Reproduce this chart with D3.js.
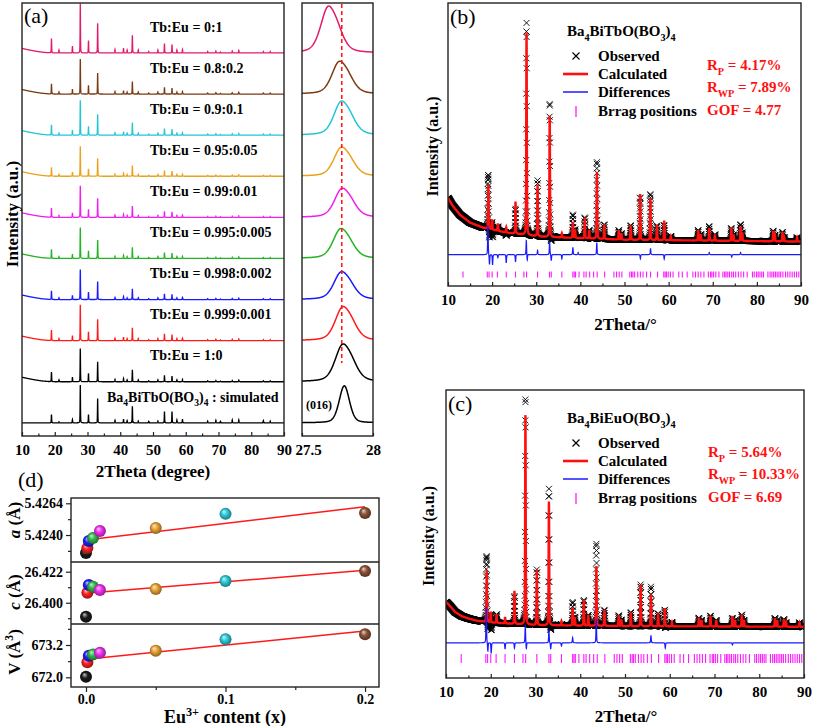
<!DOCTYPE html>
<html><head><meta charset="utf-8">
<script src="https://cdn.jsdelivr.net/npm/d3@7/dist/d3.min.js"></script>
<style>
html,body{margin:0;padding:0;background:#fff;}
text{font-family:"Liberation Serif","Times New Roman",Times,serif;}
</style></head>
<body><svg id="fig" width="813" height="726"></svg>
<script>
// ================= DATA =================
// (a) stacked XRD patterns, top to bottom
const sampleLabels=["Tb:Eu = 0:1","Tb:Eu = 0.8:0.2","Tb:Eu = 0.9:0.1","Tb:Eu = 0.95:0.05","Tb:Eu = 0.99:0.01","Tb:Eu = 0.995:0.005","Tb:Eu = 0.998:0.002","Tb:Eu = 0.999:0.001","Tb:Eu = 1:0"];
const sampleMainHeight=[1.2,0.85,0.85,0.73,0.77,0.75,0.73,0.87,0.81];
const simMainHeight=0.92;
const peakPos=[19.0,21.3,25.4,27.8,30.3,33.1,38.4,41.0,42.1,43.7,45.5,48.7,51.5,53.5,55.8,57.3,59.0,66.7,69.2,70.6,74.2,76.2,83.7,85.8];
const expRel=[0.29,0.06,0.14,1.0,0.25,0.60,0.07,0.10,0.06,0.36,0.06,0.03,0.06,0.19,0.17,0.06,0.07,0.03,0.04,0.02,0.04,0.05,0.03,0.03];
const simRel=[0.22,0.03,0.09,1.0,0.22,0.64,0.07,0.10,0.06,0.44,0.05,0.04,0.05,0.30,0.30,0.08,0.10,0.05,0.07,0.04,0.08,0.08,0.06,0.05];
const bgA=[[10,0.11],[12,0.075],[14,0.045],[16,0.02],[18,0.006],[20,0],[90,0]];
const xTicksA=[10,20,30,40,50,60,70,80,90];
// (a) inset: (016) reflection
const p016Pos=[27.678,27.756,27.77,27.77,27.775,27.765,27.77,27.78,27.78];
const p016Height=[1.14,0.80,0.83,0.71,0.71,0.73,0.68,0.83,0.92];
const sim016Pos=27.798, sim016Height=0.90;
const refLine016=27.78;
const xTicksInset=[27.5,28];

// (b) Rietveld refinement Ba4BiTbO(BO3)4
const refPosB=[19.15,20.0,21.3,23.2,25.3,27.8,30.3,33.05,35.8,38.3,38.8,41.0,42.0,43.75,45.4,48.7,49.3,51.4,53.55,55.85,57.35,59.0,60.5,66.7,67.3,69.2,70.5,74.2,74.7,76.3,76.7,83.7,84.1,85.8,86.2,89.1];
const calcHB=[0.21,0.048,0.035,0.025,0.155,0.98,0.25,0.59,0.02,0.077,0.04,0.10,0.04,0.32,0.07,0.045,0.03,0.07,0.22,0.20,0.07,0.095,0.02,0.05,0.03,0.06,0.03,0.065,0.03,0.07,0.04,0.05,0.03,0.045,0.02,0.02];
const bgB=[[10,0.217],[11,0.18],[12.7,0.135],[15,0.097],[18,0.072],[23.4,0.048],[31,0.029],[50,0.014],[90,0.005]];
const diffPosB=[19.05,19.4,20.1,21.3,23.2,25.3,27.75,27.95,30.3,33.03,33.4,35.8,38.3,39.5,43.72,53.6,55.9,59.0,69.2,74.3,76.3];
const diffAmpB=[0.14,-0.05,-0.05,-0.015,-0.04,-0.035,0.07,-0.03,0.02,0.063,-0.03,-0.02,0.035,0.01,0.058,-0.02,0.03,-0.022,0.01,-0.012,0.01];
const statsB=[["R","P"," = 4.17%"],["R","WP"," = 7.89%"],["GOF = 4.77"]];

// (c) Rietveld refinement Ba4BiEuO(BO3)4
const refPosC=[19.1,20.0,21.3,23.2,25.3,27.75,30.3,33.0,35.8,38.3,38.8,40.8,41.8,43.6,45.4,48.6,49.2,51.3,53.5,55.8,57.4,58.9,60.5,66.5,67.1,69.1,70.4,74.0,74.6,76.1,76.6,83.5,84.0,85.5,86.0,89.0];
const calcHC=[0.245,0.05,0.04,0.03,0.155,0.99,0.26,0.58,0.02,0.085,0.04,0.12,0.05,0.28,0.075,0.05,0.03,0.065,0.195,0.15,0.06,0.085,0.02,0.04,0.03,0.05,0.03,0.05,0.03,0.055,0.03,0.04,0.03,0.035,0.02,0.02];
const bgC=[[10,0.117],[11,0.095],[12,0.07],[13.5,0.05],[15,0.039],[17,0.028],[20,0.02],[30,0.008],[50,0.003],[90,0]];
const diffPosC=[19.0,19.35,20.1,23.2,25.3,27.72,27.95,33.0,33.4,35.8,38.3,43.58,55.8,59.0,74.0];
const diffAmpC=[0.17,-0.042,-0.05,-0.03,-0.025,0.085,-0.03,0.06,-0.03,-0.015,0.025,0.11,0.035,-0.025,-0.01];
const statsC=[["R","P"," = 5.64%"],["R","WP"," = 10.33%"],["GOF = 6.69"]];

// Bragg reflection positions (both refinements)
const braggPos=[13.4,18.9,19.3,20.0,21.2,23.2,25.3,27.2,27.8,30.3,33.0,33.4,35.8,38.3,38.6,38.9,39.7,40.8,41.3,42.1,43.0,43.8,45.5,47.6,48.2,48.8,49.4,51.2,51.6,51.9,52.3,53.0,53.6,54.2,55.0,55.9,57.5,58.9,59.2,59.5,59.9,60.4,61.0,62.3,63.1,64.2,65.5,66.1,66.7,67.3,68.0,69.0,69.5,69.8,70.2,70.7,71.4,72.3,72.7,73.0,73.4,73.8,74.3,74.7,75.2,75.8,76.4,77.0,77.8,79.0,79.4,79.9,80.3,80.7,81.1,81.5,82.5,83.0,83.4,83.8,84.2,84.6,85.0,85.4,85.9,86.5,87.0,87.5,88.0,88.5,89.0,89.5];
const xTicksBC=[10,20,30,40,50,60,70,80,90];

// (d) lattice parameters vs Eu3+ content
const euX=[0,0.001,0.002,0.005,0.01,0.05,0.1,0.2];
const latA=[5.42264,5.42302,5.42355,5.42377,5.4243,5.42453,5.4256,5.42567];
const latC=[26.3901,26.4071,26.4126,26.4114,26.4090,26.4097,26.4154,26.4225];
const latV=[672.02,672.56,672.80,672.85,672.91,672.99,673.41,673.60];
const fitA=[5.42362,5.42614], fitC=[26.4067,26.4230], fitV=[672.67,673.72];
const fitX=[0,0.2];
const ticksA=[5.4240,5.4264], minorA=[5.4228,5.4252];
const ticksC=[26.400,26.422], minorC=[26.389,26.411];
const ticksV=[672.0,673.2], minorV=[672.6,673.8];
const ticksX=[0,0.1,0.2], minorX=[0.05,0.15];

// ================= STYLE =================
const sampleColors=["#e11a6c","#7a3b14","#22c6d6","#e9a21c","#f01ef0","#23b423","#1a1aff","#ff1a1a","#000000"];
const sphereColors=["#1a1a1a","#ff2020","#2020ff","#2fb84a","#f030f0","#e8a233","#2cc8d8","#8a5236"];

// ================= HELPERS =================
const svg=d3.select("#fig");
const defs=svg.append("defs");
function pv(dx,f,eta){const t=4*dx*dx/(f*f);return eta/(1+t)+(1-eta)*Math.exp(-Math.LN2*t);}
function sumPeaks(x,pos,amp,f,eta){let s=0;for(let i=0;i<pos.length;i++){const d=x-pos[i];if(d>-3&&d<3)s+=amp[i]*pv(d,f,eta);}return s;}
function grid(a,b,step){const n=Math.round((b-a)/step);return d3.range(n+1).map(i=>a+i*step);}
function piecewise(pts){return d3.scaleLinear().domain(pts.map(d=>d[0])).range(pts.map(d=>d[1])).clamp(true);}
function rich(sel,parts,size){
  let shift=0;
  parts.forEach(p=>{
    const t=typeof p==="string"?p:p[0], k=typeof p==="string"?null:p[1];
    let s=0,fs=size;
    if(k==="sub"){s=size*0.3;fs=size*0.68;} else if(k==="sup"){s=-size*0.4;fs=size*0.68;}
    const ts=sel.append("tspan").text(t).attr("font-size",fs);
    if(s-shift!==0) ts.attr("dy",s-shift);
    if(k==="i") ts.attr("font-style","italic");
    shift=s;
  });
  return sel;
}
function txt(x,y,size,opts={}){
  const t=svg.append("text").attr("x",x).attr("y",y).attr("font-size",size)
    .attr("font-weight",opts.weight||"bold").attr("fill",opts.fill||"#000")
    .attr("text-anchor",opts.anchor||"start");
  if(opts.rotate) t.attr("transform",`rotate(-90,${x},${y})`);
  return t;
}
function styleAxis(g,size){
  g.select(".domain").remove();
  g.selectAll(".tick line").attr("stroke","#222").attr("stroke-width",1.2);
  g.selectAll(".tick text").attr("font-size",size).attr("font-weight","bold").attr("fill","#000")
    .attr("font-family",'"Liberation Serif","Times New Roman",serif');
}
function frame(x0,y0,x1,y1){
  svg.append("rect").attr("x",x0).attr("y",y0).attr("width",x1-x0).attr("height",y1-y0)
    .attr("fill","none").attr("stroke","#222").attr("stroke-width",1.4);
}
function clip(id,x0,y0,x1,y1){
  defs.append("clipPath").attr("id",id).append("rect").attr("x",x0).attr("y",y0).attr("width",x1-x0).attr("height",y1-y0);
}

// ================= PANEL (a) =================
const xA=d3.scaleLinear().domain([10,90]).range([22,284]);
const xAi=d3.scaleLinear().domain([27.5,28]).range([302,373]);
const yA=d3.scaleLinear().domain([0,10.535]).range([436,3]);
const bgAf=piecewise(bgA);
const nS=sampleLabels.length;
const offsetOf=j=>(nS-j)+0.32;
clip("clipA",22,3,284,436); clip("clipAi",302,3,373,436);
const gA=svg.append("g").attr("clip-path","url(#clipA)");
const gAi=svg.append("g").attr("clip-path","url(#clipAi)");
const xsA=grid(10,90,0.02), xsI=grid(27.5,28,0.002);
const lineA=d3.line().x(d=>xA(d[0])).y(d=>yA(d[1]));
const lineAi=d3.line().x(d=>xAi(d[0])).y(d=>yA(d[1]));
for(let j=0;j<=nS;j++){
  const sim=j===nS, off=offsetOf(j), col=sim?"#000":sampleColors[j];
  const h=sim?simMainHeight:sampleMainHeight[j], rel=sim?simRel:expRel;
  const pts=xsA.map(x=>[x,off+(sim?0:bgAf(x))+h*sumPeaks(x,peakPos,rel,0.13,0.4)]);
  gA.append("path").attr("d",lineA(pts)).attr("fill","none").attr("stroke",col).attr("stroke-width",1.3);
  let shape;
  if(sim){shape=x=>pv(x-sim016Pos,0.085,0.3);}
  else{const p=p016Pos[j];shape=x=>pv(x-p,0.12,0.4)+0.45*pv(x-p-0.068,0.12,0.4);}
  const mx=d3.max(xsI,shape), hh=sim?sim016Height:p016Height[j];
  const ptsI=xsI.map(x=>[x,off+hh*shape(x)/mx]);
  gAi.append("path").attr("d",lineAi(ptsI)).attr("fill","none").attr("stroke",col).attr("stroke-width",1.5);
  if(sim){
    rich(txt(107,yA(off+0.5),14),["Ba",["4","sub"],"BiTbO(BO",["3","sub"],")",["4","sub"]," : simulated"],14);
  } else {
    txt(150,yA(off+0.52),14).text(sampleLabels[j]);
  }
}
svg.append("line").attr("x1",xAi(refLine016)).attr("x2",xAi(refLine016)).attr("y1",4).attr("y2",363)
  .attr("stroke","#ff1a1a").attr("stroke-width",1.6).attr("stroke-dasharray","4,3");
txt(319,409,12,{anchor:"middle"}).text("(016)");
frame(22,3,284,436); frame(302,3,373,436);
let g=svg.append("g").attr("transform","translate(0,436)").call(d3.axisBottom(xA).tickValues(xTicksA).tickFormat(d3.format("d")).tickSize(-4).tickPadding(8));
styleAxis(g,15);
g=svg.append("g").attr("transform","translate(0,436)").call(d3.axisBottom(xA).tickValues(d3.range(15,90,10)).tickFormat("").tickSize(-2.5));
styleAxis(g,15);
g=svg.append("g").attr("transform","translate(0,436)").call(d3.axisBottom(xAi).tickValues(xTicksInset).tickFormat(d=>d===28?"28":"27.5").tickSize(-3).tickPadding(8));
styleAxis(g,15);
g.selectAll(".tick text").filter(d=>d===27.5).attr("dx",6);
txt(153,477,17,{anchor:"middle"}).text("2Theta (degree)");
txt(18,214,17,{anchor:"middle",rotate:true}).text("Intensity (a.u.)");
txt(24,23,22,{weight:"normal"}).text("(a)");

// ================= PANELS (b),(c) =================
function refinement(o){
  const x=d3.scaleLinear().domain([10,90]).range([o.x0,o.x1]);
  const y=d3.scaleLinear().domain(o.ydom).range([o.y1,o.y0]);
  const bgf=piecewise(o.bg);
  clip(o.id,o.x0,o.y0,o.x1,o.y1);
  const gg=svg.append("g").attr("clip-path",`url(#${o.id})`);
  const xs=grid(10,90,0.02);
  const calc=xs.map(t=>bgf(t)+sumPeaks(t,o.pos,o.h,0.15,0.4));
  const diff=xs.map(t=>sumPeaks(t,o.dpos,o.damp,0.15,0.4));
  let dpath="";
  xs.forEach((t,i)=>{const px=x(t),py=y(calc[i]+diff[i]);dpath+=`M${(px-3).toFixed(2)},${(py-3).toFixed(2)}l6,6m0,-6l-6,6`;});
  gg.append("path").attr("d",dpath).attr("fill","none").attr("stroke","#000").attr("stroke-width",0.9);
  gg.append("path").attr("d",d3.line().x((d,i)=>x(xs[i])).y(d=>y(d))(calc)).attr("fill","none").attr("stroke","#ff1010").attr("stroke-width",2.4);
  gg.append("path").attr("d",d3.line().x((d,i)=>x(xs[i])).y(d=>y(o.doff+d))(diff)).attr("fill","none").attr("stroke","#1a1aff").attr("stroke-width",1.2);
  gg.selectAll(null).data(braggPos).enter().append("line")
    .attr("x1",d=>x(d)).attr("x2",d=>x(d)).attr("y1",y(o.tick[0])).attr("y2",y(o.tick[1]))
    .attr("stroke","#ff1aff").attr("stroke-width",1.1);
  frame(o.x0,o.y0,o.x1,o.y1);
  let a=svg.append("g").attr("transform",`translate(0,${o.y1})`).call(d3.axisBottom(x).tickValues(xTicksBC).tickFormat(d3.format("d")).tickSize(-4).tickPadding(8));
  styleAxis(a,15);
  a=svg.append("g").attr("transform",`translate(0,${o.y1})`).call(d3.axisBottom(x).tickValues(d3.range(15,90,10)).tickFormat("").tickSize(-2.5));
  styleAxis(a,15);
  txt((o.x0+o.x1)/2+1,o.y1+44,17,{anchor:"middle"}).text("2Theta/°");
  txt(o.x0-o.ylabOff,(o.y0+o.y1)/2+2,16,{anchor:"middle",rotate:true}).text("Intensity (a.u.)");
  txt(o.x0+2,o.y0+21,22,{weight:"normal"}).text(o.tag);
  const L=o.leg;
  rich(txt(567,L,15),o.title,15);
  svg.append("path").attr("d",`M572.5,${L+16.5}l7,7m0,-7l-7,7`).attr("stroke","#000").attr("stroke-width",1.2).attr("fill","none");
  txt(598,L+25,15).text("Observed");
  svg.append("line").attr("x1",563).attr("x2",588).attr("y1",L+38).attr("y2",L+38).attr("stroke","#ff1010").attr("stroke-width",2.6);
  txt(598,L+43,15).text("Calculated");
  svg.append("line").attr("x1",563).attr("x2",588).attr("y1",L+56).attr("y2",L+56).attr("stroke","#1a1aff").attr("stroke-width",1.5);
  txt(598,L+61,15).text("Differences");
  svg.append("line").attr("x1",576).attr("x2",576).attr("y1",L+70).attr("y2",L+81).attr("stroke","#ff1aff").attr("stroke-width",1.3);
  txt(598,L+80,15).text("Brrag positions");
  const sx=o.statsX;
  rich(txt(sx,L+34,15,{fill:"#ff1010"}),[o.stats[0][0],[o.stats[0][1],"sub"],o.stats[0][2]],15);
  rich(txt(sx,L+56,15,{fill:"#ff1010"}),[o.stats[1][0],[o.stats[1][1],"sub"],o.stats[1][2]],15);
  txt(sx,L+79,15,{fill:"#ff1010"}).text(o.stats[2][0]);
}
refinement({id:"clipB",x0:448,x1:801,y0:3,y1:286,ydom:[-0.21,1.16],bg:bgB,pos:refPosB,h:calcHB,dpos:diffPosB,damp:diffAmpB,doff:-0.058,tick:[-0.14,-0.169],tag:"(b)",leg:36,statsX:707,stats:statsB,ylabOff:10,
  title:["Ba",["4","sub"],"BiTbO(BO",["3","sub"],")",["4","sub"]]});
refinement({id:"clipC",x0:446,x1:804,y0:390,y1:678,ydom:[-0.24,1.11],bg:bgC,pos:refPosC,h:calcHC,dpos:diffPosC,damp:diffAmpC,doff:-0.075,tick:[-0.128,-0.17],tag:"(c)",leg:423,statsX:708,stats:statsC,ylabOff:12,
  title:["Ba",["4","sub"],"BiEuO(BO",["3","sub"],")",["4","sub"]]});

// ================= PANEL (d) =================
const xD=d3.scaleLinear().domain([-0.01075,0.21]).range([71,379]);
const subs=[
  {vals:latA,fit:fitA,ticks:ticksA,minor:minorA,fmt:d3.format(".4f"),dom:[5.42196,5.4268],r:[562,498],label:[["a","i"]," (Å)"],ly:520},
  {vals:latC,fit:fitC,ticks:ticksC,minor:minorC,fmt:d3.format(".3f"),dom:[26.3849,26.4289],r:[624,562],label:[["c","i"]," (Å)"],ly:592},
  {vals:latV,fit:fitV,ticks:ticksV,minor:minorV,fmt:d3.format(".1f"),dom:[671.64,673.98],r:[687,624],label:["V (Å",["3","sup"],")"],ly:652}
];
sphereColors.forEach((c,i)=>{
  const gr=defs.append("radialGradient").attr("id","sph"+i).attr("cx","50%").attr("cy","50%").attr("r","55%").attr("fx","35%").attr("fy","30%");
  gr.append("stop").attr("offset","0%").attr("stop-color",d3.interpolateRgb(c,"#fff")(0.75));
  gr.append("stop").attr("offset","45%").attr("stop-color",c);
  gr.append("stop").attr("offset","100%").attr("stop-color",d3.interpolateRgb(c,"#000")(0.45));
});
subs.forEach(s=>{
  const y=d3.scaleLinear().domain(s.dom).range(s.r);
  let a=svg.append("g").attr("transform","translate(71,0)").call(d3.axisLeft(y).tickValues(s.ticks).tickFormat(s.fmt).tickSize(5).tickPadding(3));
  styleAxis(a,14);
  a=svg.append("g").attr("transform","translate(71,0)").call(d3.axisLeft(y).tickValues(s.minor).tickFormat("").tickSize(3));
  styleAxis(a,14);
  svg.append("line").attr("x1",xD(fitX[0])).attr("x2",xD(fitX[1])).attr("y1",y(s.fit[0])).attr("y2",y(s.fit[1]))
    .attr("stroke","#ff1a1a").attr("stroke-width",1.5);
  svg.append("g").selectAll("circle").data(euX).enter().append("circle")
    .attr("cx",d=>xD(d)).attr("cy",(d,i)=>y(s.vals[i])).attr("r",6).attr("fill",(d,i)=>`url(#sph${i})`);
  rich(txt(20,s.ly,17,{anchor:"middle",rotate:true}),s.label,17);
});
frame(71,498,379,687);
svg.append("line").attr("x1",71).attr("x2",379).attr("y1",562).attr("y2",562).attr("stroke","#222").attr("stroke-width",1.4);
svg.append("line").attr("x1",71).attr("x2",379).attr("y1",624).attr("y2",624).attr("stroke","#222").attr("stroke-width",1.4);
g=svg.append("g").attr("transform","translate(0,687)").call(d3.axisBottom(xD).tickValues(ticksX).tickFormat(d3.format(".1f")).tickSize(5).tickPadding(2));
styleAxis(g,14);
g=svg.append("g").attr("transform","translate(0,687)").call(d3.axisBottom(xD).tickValues(minorX).tickFormat("").tickSize(3));
styleAxis(g,14);
rich(txt(225,723,18,{anchor:"middle"}),["Eu",["3+","sup"]," content (x)"],18);
txt(18,487,22,{weight:"normal"}).text("(d)");
</script>
</body></html>
